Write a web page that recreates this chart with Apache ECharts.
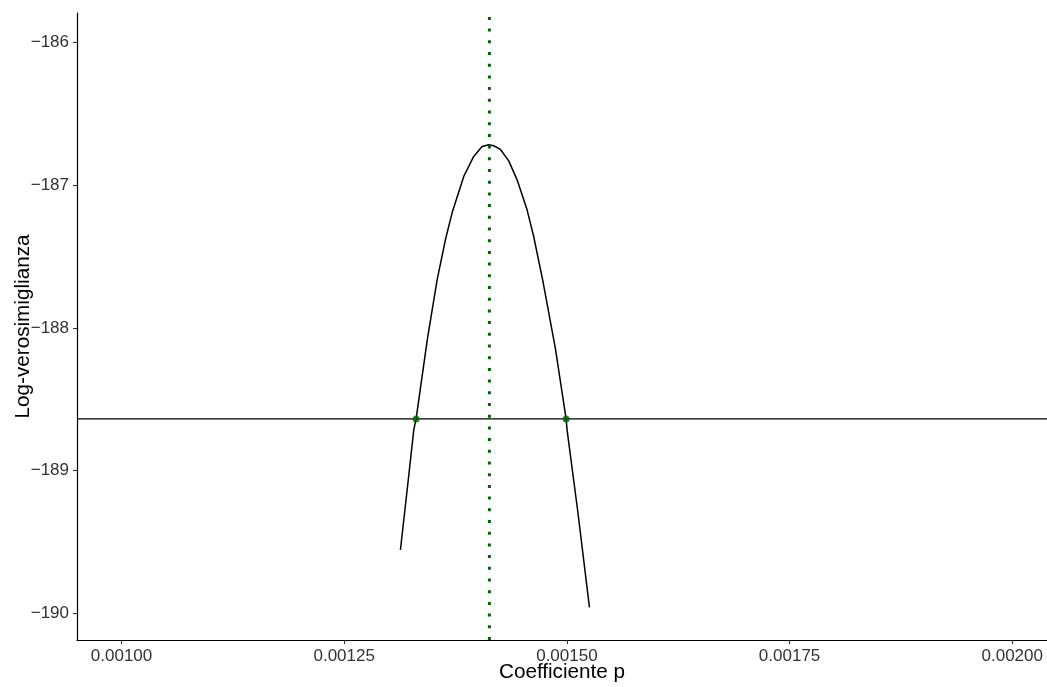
<!DOCTYPE html>
<html>
<head>
<meta charset="utf-8">
<title>Log-verosimiglianza</title>
<script src="https://cdn.jsdelivr.net/npm/echarts@6/dist/echarts.min.js"></script>
<style>
  html, body { margin: 0; padding: 0; background: #ffffff; }
  #chart { width: 1047px; height: 687px; }
</style>
</head>
<body>
<div id="chart"></div>
<script>
// Profile of the log-likelihood as a function of the coefficient p
const pValues = [
  0.0013131, 0.0013204, 0.0013281, 0.0013307, 0.0013434, 0.0013543,
  0.0013636, 0.0013711, 0.0013842, 0.0013954, 0.0014048, 0.0014122,
  0.0014178, 0.0014254, 0.0014347, 0.0014441, 0.0014553, 0.0014627,
  0.0014728, 0.0014871, 0.0014991, 0.0015002, 0.0015123, 0.0015253
];
const logLik = [
  -189.556, -189.150, -188.715, -188.638, -188.077, -187.664,
  -187.383, -187.194, -186.939, -186.799, -186.729, -186.717,
  -186.724, -186.750, -186.830, -186.963, -187.173, -187.360,
  -187.664, -188.145, -188.638, -188.715, -189.290, -189.958
];

// Maximum-likelihood estimate and the cut-off level of the interval
const mleP = 0.001413;
const cutoff = -188.638;
const intervalEnds = [0.0013307, 0.0014991];

// Axis ranges and tick marks
const xRange = [0.00095, 0.002039];
const yRange = [-190.187, -185.794];
const xTicks = [0.00100, 0.00125, 0.00150, 0.00175, 0.00200];
const yTicks = [-190, -189, -188, -187, -186];

const curve = pValues.map((p, i) => [p, logLik[i]]);
const endPoints = intervalEnds.map(p => [p, cutoff]);
const mleLine = yRange.map(y => [mleP, y]);
const cutoffLine = xRange.map(p => [p, cutoff]);

const font = 'Liberation Sans, Arial, sans-serif';
const chart = echarts.init(document.getElementById('chart'), null, { renderer: 'canvas' });

chart.setOption({
  animation: false,
  backgroundColor: '#ffffff',
  grid: { left: 77, top: 13, right: 0, bottom: 47, containLabel: false, outerBoundsMode: 'none' },
  xAxis: {
    type: 'value',
    min: xRange[0],
    max: xRange[1],
    name: 'Coefficiente p',
    nameLocation: 'middle',
    nameGap: 22,
    nameMoveOverlap: false,
    nameTextStyle: { fontFamily: font, fontSize: 20.7, color: '#000000' },
    axisLine: { show: true, lineStyle: { color: '#000000', width: 1.2 } },
    axisTick: { show: true, length: 4, lineStyle: { color: '#333333', width: 1.1 }, customValues: xTicks },
    axisLabel: {
      customValues: xTicks,
      margin: 8,
      fontFamily: font, fontSize: 17, color: '#333333',
      formatter: v => v.toFixed(5)
    },
    splitLine: { show: false }
  },
  yAxis: {
    type: 'value',
    min: yRange[0],
    max: yRange[1],
    name: 'Log-verosimiglianza',
    nameLocation: 'middle',
    nameGap: 43,
    nameMoveOverlap: false,
    nameTextStyle: { fontFamily: font, fontSize: 20.7, color: '#000000' },
    axisLine: { show: true, lineStyle: { color: '#000000', width: 1.2 } },
    axisTick: { show: true, length: 4, lineStyle: { color: '#333333', width: 1.1 }, customValues: yTicks },
    axisLabel: {
      customValues: yTicks,
      margin: 8,
      fontFamily: font, fontSize: 17, color: '#333333',
      formatter: v => String(v).replace('-', '\u2212')
    },
    splitLine: { show: false }
  },
  series: [
    {
      name: 'soglia',
      type: 'line',
      data: cutoffLine,
      showSymbol: false,
      silent: true,
      lineStyle: { color: '#000000', width: 1.3 },
      z: 2
    },
    {
      name: 'curva',
      type: 'line',
      data: curve,
      showSymbol: false,
      smooth: false,
      silent: true,
      lineStyle: { color: '#000000', width: 1.5 },
      z: 3
    },
    {
      name: 'stima',
      type: 'line',
      data: mleLine,
      showSymbol: false,
      silent: true,
      lineStyle: { color: '#006400', width: 3, type: [3, 8.7], cap: 'butt' },
      z: 4
    },
    {
      name: 'estremi',
      type: 'scatter',
      data: endPoints,
      symbol: 'circle',
      symbolSize: 7,
      itemStyle: { color: '#006400' },
      z: 5
    }
  ]
});
</script>
</body>
</html>
